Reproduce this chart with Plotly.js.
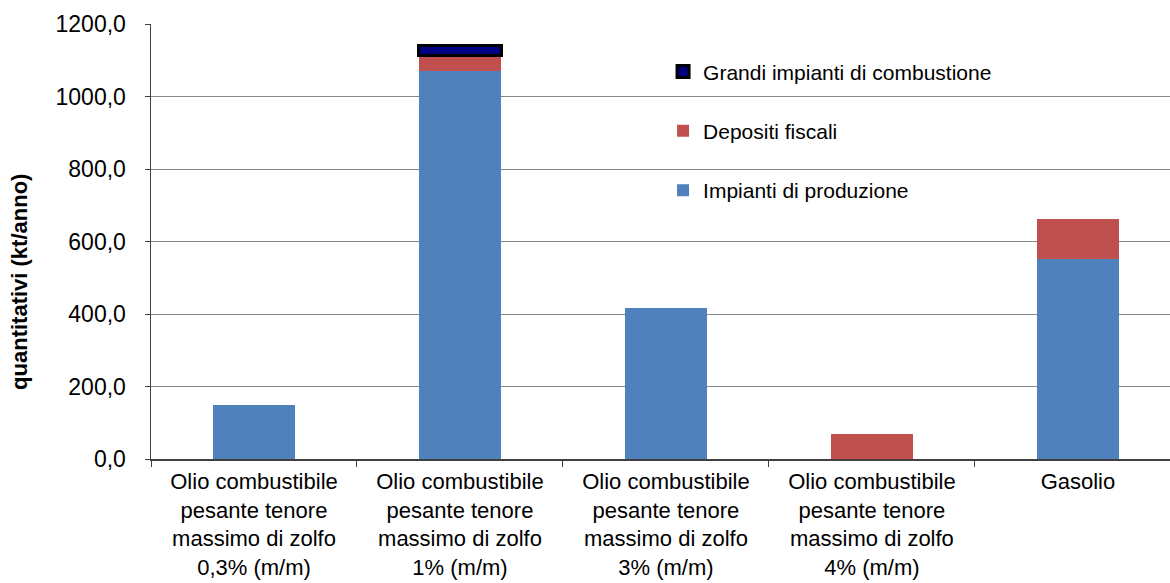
<!DOCTYPE html>
<html><head><meta charset="utf-8">
<script src="https://cdn.plot.ly/plotly-3.0.1.min.js"></script>
<style>html,body{margin:0;padding:0;background:#fff}#chart{width:1170px;height:583px}</style>
</head><body><div id="chart"></div>
<script>
const categories = [
  "Olio combustibile<br>pesante tenore<br>massimo di zolfo<br>0,3% (m/m)",
  "Olio combustibile<br>pesante tenore<br>massimo di zolfo<br>1% (m/m)",
  "Olio combustibile<br>pesante tenore<br>massimo di zolfo<br>3% (m/m)",
  "Olio combustibile<br>pesante tenore<br>massimo di zolfo<br>4% (m/m)",
  "Gasolio"
];
const impiantiProduzione = [149, 1069, 417, null, 552];
const depositiFiscali = [null, 45, null, 70, 110];
const grandiImpianti = [null, 27, null, null, null];
const yTicks = [0, 200, 400, 600, 800, 1000, 1200];

const traces = [
  {type:'bar', name:'Impianti di produzione', x:categories, y:impiantiProduzione, legendgroup:'a', legendrank:3,
   marker:{color:'#4F81BD', line:{width:0}}, hoverinfo:'y'},
  {type:'bar', name:'Depositi fiscali', x:categories, y:depositiFiscali, legendgroup:'b', legendrank:2,
   marker:{color:'#C0504D', line:{width:0}}, hoverinfo:'y'},
  {type:'bar', name:'Grandi impianti di combustione', x:categories, y:grandiImpianti, legendgroup:'c', legendrank:1,
   marker:{color:'#000080', line:{width:3, color:'#000000'}}, hoverinfo:'y'}
];

const layout = {
  width:1170, height:583,
  margin:{l:151, r:0, t:24, b:124},
  barmode:'stack', bargap:0.6,
  separators:',.',
  paper_bgcolor:'#fff', plot_bgcolor:'#fff',
  font:{family:'Liberation Sans, Arial, sans-serif', color:'#000'},
  xaxis:{type:'category', range:[-0.5, 4.447], tickson:'boundaries', ticks:'outside', ticklen:6,
         tickcolor:'#404040', showline:true, linecolor:'#404040', linewidth:1.5,
         tickfont:{size:22}, ticklabelstandoff:2, showgrid:false, fixedrange:true},
  yaxis:{range:[0,1200], tickvals:yTicks, tickformat:'.1f', ticks:'outside', ticklen:5,
         tickcolor:'#404040', showline:true, linecolor:'#404040', linewidth:1.5,
         showgrid:true, gridcolor:'#868686', gridwidth:1, zeroline:false,
         tickfont:{size:23}, ticklabelstandoff:14, fixedrange:true},
  showlegend:true,
  legend:{x:0.5025, xanchor:'left', y:0.937, yanchor:'top', bgcolor:'rgba(0,0,0,0)',
          traceorder:'grouped', tracegroupgap:29, font:{size:21}, borderwidth:0},
  shapes:[{type:'rect', xref:'paper', yref:'paper', x0:0.488, x1:0.871, y0:0.545, y1:0.95,
           fillcolor:'#fff', line:{width:0}, layer:'between'}],
  annotations:[{text:'<b>quantitativi (kt/anno)</b>', textangle:-90, xref:'paper', yref:'paper',
                x:-0.1286, y:0.407, xanchor:'center', yanchor:'middle', showarrow:false,
                font:{size:22}}]
};
Plotly.newPlot('chart', traces, layout, {displayModeBar:false, staticPlot:true});
</script></body></html>
